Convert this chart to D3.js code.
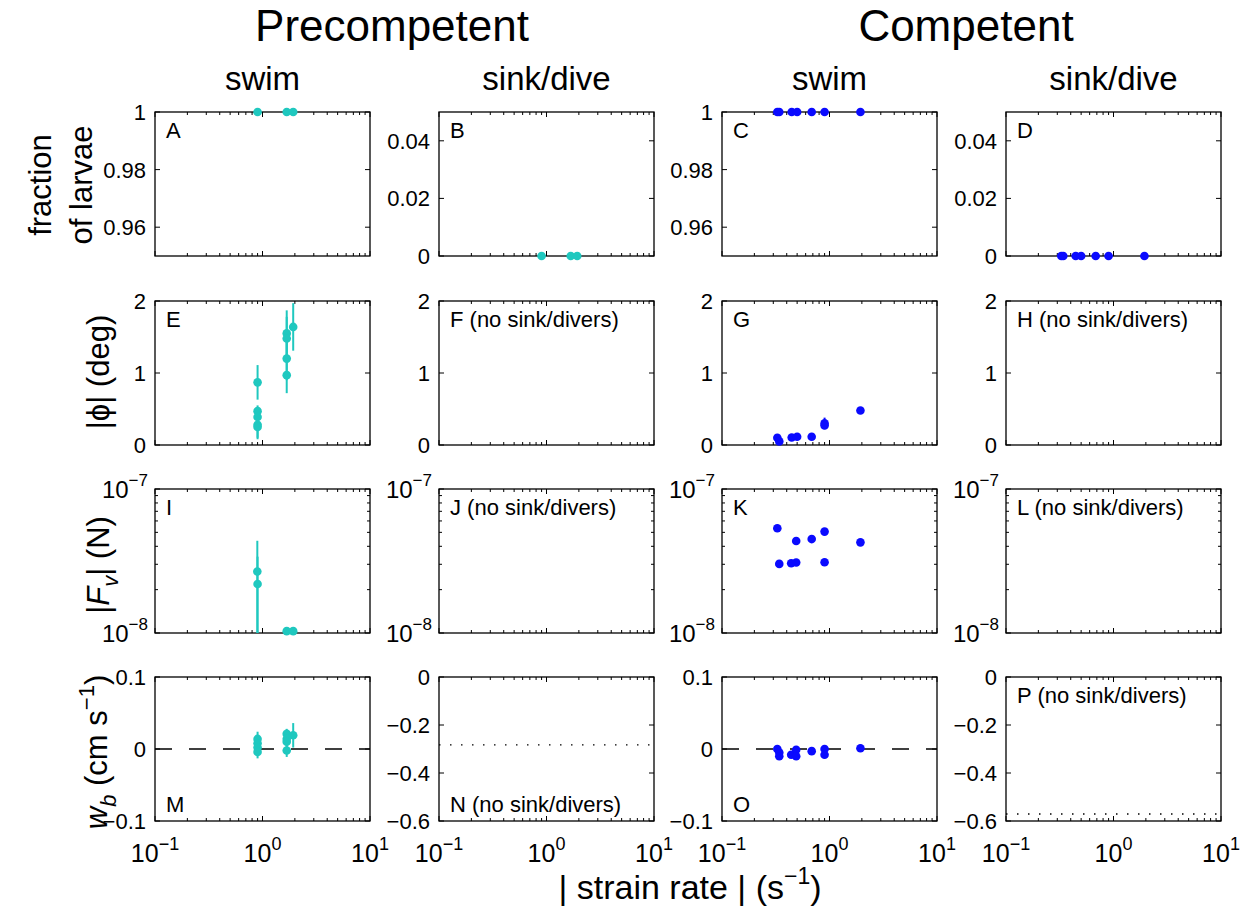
<!DOCTYPE html>
<html><head><meta charset="utf-8">
<script src="https://cdn.jsdelivr.net/npm/d3@7"></script>
<style>
body{margin:0;background:#fff}
text{font-family:"Liberation Sans",Arial,Helvetica,sans-serif;fill:#000}
</style>
</head><body>
<svg id="chart" width="1247" height="914"></svg>
<script>
// ---------------- DATA ----------------
const colTitles = ["swim", "sink/dive", "swim", "sink/dive"];
const groupTitles = ["Precompetent", "Competent"];
const xTickValues = [0.1, 1, 10];
const xTickExp = ["\u22121", "0", "1"];

// Precompetent (cyan)
const preFracX = [0.9, 1.68, 1.93];
const preFracSwimY = [1, 1, 1];
const preFracSinkY = [0, 0, 0];

const preAngleX = [0.9, 0.9, 0.9, 0.9, 0.9, 1.68, 1.68, 1.68, 1.68, 1.93];
const preAngleY = [0.87, 0.47, 0.39, 0.28, 0.25, 1.55, 1.48, 1.20, 0.97, 1.64];
const preAngleErr = [0.24, 0.08, 0.10, 0.20, 0.15, 0.32, 0.30, 0.30, 0.25, 0.33];

const preForceX = [0.895, 0.9, 1.68, 1.93];
const preForceY = [2.67e-8, 2.19e-8, 1.03e-8, 1.03e-8];
const preForceErr = [1.7e-8, 1.2e-8, 0, 0];

const preWbX = [0.9, 0.9, 0.9, 0.9, 1.68, 1.68, 1.68, 1.68, 1.93];
const preWbY = [0.014, 0.008, 0.002, -0.004, 0.021, 0.014, 0.010, -0.002, 0.019];
const preWbErr = [0.010, 0.008, 0.008, 0.009, 0.007, 0.008, 0.008, 0.009, 0.017];

// Competent (blue)
const compFracX = [0.327, 0.341, 0.445, 0.50, 0.683, 0.90, 1.94];
const compFracSwimY = [1, 1, 1, 1, 1, 1, 1];
const compFracSinkY = [0, 0, 0, 0, 0, 0, 0];

const compAngleX = [0.327, 0.341, 0.445, 0.50, 0.683, 0.90, 0.90, 1.94];
const compAngleY = [0.10, 0.05, 0.105, 0.115, 0.115, 0.30, 0.27, 0.48];
const compAngleErr = [0.02, 0.02, 0.02, 0.02, 0.02, 0.08, 0.04, 0.03];

const compForceX = [0.327, 0.341, 0.44, 0.49, 0.49, 0.683, 0.90, 0.90, 1.94];
const compForceY = [5.34e-8, 3.02e-8, 3.05e-8, 4.35e-8, 3.09e-8, 4.49e-8, 5.06e-8, 3.1e-8, 4.26e-8];

const compWbX = [0.327, 0.341, 0.341, 0.44, 0.49, 0.49, 0.683, 0.90, 0.90, 1.94];
const compWbY = [0.000, -0.005, -0.010, -0.008, -0.001, -0.010, -0.003, 0.000, -0.008, 0.001];
const compWbErr = [0.003, 0.003, 0.003, 0.003, 0.003, 0.003, 0.003, 0.003, 0.003, 0.005];

// reference lines
const zeroLineWb = 0;
const sinkRefN = -0.283;
const sinkRefP = -0.571;

const cyan = "#1fc8bf";
const blue = "#0a0aff";

// ---------------- LAYOUT ----------------
const svg = d3.select("#chart");
const panelLeft = [155, 439, 722, 1006];
const panelTop = [112, 301, 489, 677];
const W = 215, H = 144;

const x = d3.scaleLog().domain([0.1, 10]).range([0, W]);

function zip(xs, ys, es) { return xs.map((d, i) => ({x: d, y: ys[i], e: es ? es[i] : 0})); }

const fracSwim = {domain: [0.95, 1], ticks: [0.96, 0.98, 1], fmt: d => d === 1 ? "1" : d.toFixed(2)};
const fracSink = {domain: [0, 0.05], ticks: [0, 0.02, 0.04], fmt: d => d === 0 ? "0" : d.toFixed(2)};
const angle = {domain: [0, 2], ticks: [0, 1, 2], fmt: d => String(d)};
const force = {domain: [1e-8, 1e-7], log: true, ticks: [1e-8, 1e-7], exps: ["\u22128", "\u22127"]};
const wbSwim = {domain: [-0.1, 0.1], ticks: [-0.1, 0, 0.1], fmt: d => d === 0 ? "0" : (d < 0 ? "\u2212" : "") + Math.abs(d).toFixed(1)};
const wbSink = {domain: [-0.6, 0], ticks: [-0.6, -0.4, -0.2, 0], fmt: d => d === 0 ? "0" : "\u2212" + Math.abs(d).toFixed(1)};

const panels = [
  {c:0, r:0, ax: fracSwim, label:"A", pos:"top", data: zip(preFracX, preFracSwimY), color: cyan},
  {c:1, r:0, ax: fracSink, label:"B", pos:"top", data: zip(preFracX, preFracSinkY), color: cyan},
  {c:2, r:0, ax: fracSwim, label:"C", pos:"top", data: zip(compFracX, compFracSwimY), color: blue},
  {c:3, r:0, ax: fracSink, label:"D", pos:"top", data: zip(compFracX, compFracSinkY), color: blue},
  {c:0, r:1, ax: angle, label:"E", pos:"top", data: zip(preAngleX, preAngleY, preAngleErr), color: cyan},
  {c:1, r:1, ax: angle, label:"F (no sink/divers)", pos:"top", data: [], color: cyan},
  {c:2, r:1, ax: angle, label:"G", pos:"top", data: zip(compAngleX, compAngleY, compAngleErr), color: blue},
  {c:3, r:1, ax: angle, label:"H (no sink/divers)", pos:"top", data: [], color: blue},
  {c:0, r:2, ax: force, label:"I", pos:"top", data: zip(preForceX, preForceY, preForceErr), color: cyan},
  {c:1, r:2, ax: force, label:"J (no sink/divers)", pos:"top", data: [], color: cyan},
  {c:2, r:2, ax: force, label:"K", pos:"top", data: zip(compForceX, compForceY), color: blue},
  {c:3, r:2, ax: force, label:"L (no sink/divers)", pos:"top", data: [], color: blue},
  {c:0, r:3, ax: wbSwim, label:"M", pos:"bottom", data: zip(preWbX, preWbY, preWbErr), color: cyan, ref: zeroLineWb, refDash: "17,17"},
  {c:1, r:3, ax: wbSink, label:"N (no sink/divers)", pos:"bottom", data: [], color: cyan, ref: sinkRefN, refDash: "1.5,9.5"},
  {c:2, r:3, ax: wbSwim, label:"O", pos:"bottom", data: zip(compWbX, compWbY, compWbErr), color: blue, ref: zeroLineWb, refDash: "17,17"},
  {c:3, r:3, ax: wbSink, label:"P (no sink/divers)", pos:"top", data: [], color: blue, ref: sinkRefP, refDash: "1.5,9.5"}
];

const xMinor = [];
[0.1, 1].forEach(dec => { for (let k = 2; k <= 9; k++) xMinor.push(dec * k); });
const yLogMinor = [];
for (let k = 2; k <= 9; k++) yLogMinor.push(1e-8 * k);

const defs = svg.append("defs");

panels.forEach((p, i) => {
  const L = panelLeft[p.c], T = panelTop[p.r];
  const g = svg.append("g").attr("transform", `translate(${L},${T})`);
  const y = p.ax.log ? d3.scaleLog().domain(p.ax.domain).range([H, 0])
                     : d3.scaleLinear().domain(p.ax.domain).range([H, 0]);
  const clipId = "clip" + i;
  defs.append("clipPath").attr("id", clipId).append("rect").attr("x", 0).attr("y", 0).attr("width", W).attr("height", H);

  g.append("rect").attr("width", W).attr("height", H).attr("fill", "none").attr("stroke", "#000").attr("stroke-width", 1.3);

  const tk = g.append("g").attr("stroke", "#000").attr("stroke-width", 1);
  xTickValues.forEach(v => {
    tk.append("line").attr("x1", x(v)).attr("x2", x(v)).attr("y1", H).attr("y2", H - 5);
    tk.append("line").attr("x1", x(v)).attr("x2", x(v)).attr("y1", 0).attr("y2", 5);
  });
  xMinor.forEach(v => {
    tk.append("line").attr("x1", x(v)).attr("x2", x(v)).attr("y1", H).attr("y2", H - 3);
    tk.append("line").attr("x1", x(v)).attr("x2", x(v)).attr("y1", 0).attr("y2", 3);
  });
  p.ax.ticks.forEach(v => {
    tk.append("line").attr("x1", 0).attr("x2", 5).attr("y1", y(v)).attr("y2", y(v));
    tk.append("line").attr("x1", W).attr("x2", W - 5).attr("y1", y(v)).attr("y2", y(v));
  });
  if (p.ax.log) {
    yLogMinor.forEach(v => {
      tk.append("line").attr("x1", 0).attr("x2", 3).attr("y1", y(v)).attr("y2", y(v));
      tk.append("line").attr("x1", W).attr("x2", W - 3).attr("y1", y(v)).attr("y2", y(v));
    });
  }

  if (p.ax.log) {
    p.ax.ticks.forEach((v, k) => {
      const t = g.append("text").attr("x", -7).attr("y", y(v) + 9).attr("text-anchor", "end").attr("font-size", 24);
      t.append("tspan").text("10");
      t.append("tspan").attr("font-size", 17).attr("dy", -12).text(p.ax.exps[k]);
    });
  } else {
    p.ax.ticks.forEach(v => {
      g.append("text").attr("x", -9).attr("y", y(v) + 8).attr("text-anchor", "end").attr("font-size", 22).text(p.ax.fmt(v));
    });
  }

  if (p.r === 3) {
    xTickValues.forEach((v, k) => {
      const t = g.append("text").attr("x", x(v)).attr("y", H + 41).attr("text-anchor", "middle").attr("font-size", 25);
      t.append("tspan").text("10");
      t.append("tspan").attr("font-size", 18).attr("dy", -12).text(xTickExp[k]);
    });
  }

  if (p.ref !== undefined) {
    g.append("line").attr("x1", 0).attr("x2", W).attr("y1", y(p.ref)).attr("y2", y(p.ref))
      .attr("stroke", "#000").attr("stroke-width", 1.4).attr("stroke-dasharray", p.refDash);
  }

  const eb = g.append("g").attr("clip-path", `url(#${clipId})`);
  p.data.filter(d => d.e > 0).forEach(d => {
    const lo = p.ax.log ? Math.max(d.y - d.e, p.ax.domain[0] * 0.5) : d.y - d.e;
    eb.append("line").attr("x1", x(d.x)).attr("x2", x(d.x))
      .attr("y1", y(lo)).attr("y2", y(d.y + d.e))
      .attr("stroke", p.color).attr("stroke-width", 2);
  });
  g.append("g").selectAll("circle").data(p.data).join("circle")
    .attr("cx", d => x(d.x)).attr("cy", d => y(d.y)).attr("r", 4.3).attr("fill", p.color);

  g.append("text").attr("x", 11).attr("y", p.pos === "top" ? 26 : H - 9).attr("font-size", 22).text(p.label);
});

const colCenter = panelLeft.map(l => l + W / 2);
colTitles.forEach((t, i) => {
  svg.append("text").attr("x", colCenter[i]).attr("y", 90).attr("text-anchor", "middle").attr("font-size", 33).text(t);
});
groupTitles.forEach((t, i) => {
  svg.append("text").attr("x", i === 0 ? 392 : 966).attr("y", 41).attr("text-anchor", "middle").attr("font-size", 44).text(t);
});

function vlabel(xb, yc, build) {
  const t = svg.append("text").attr("transform", `translate(${xb},${yc}) rotate(-90)`).attr("text-anchor", "middle").attr("font-size", 31);
  build(t);
  return t;
}
vlabel(51, 185, t => t.text("fraction"));
vlabel(92, 185, t => t.text("of larvae"));
vlabel(109, 372, t => t.text("|\u03D5| (deg)"));
vlabel(109, 565, t => {
  t.append("tspan").text("|");
  t.append("tspan").attr("font-style", "italic").text("F");
  t.append("tspan").attr("font-style", "italic").attr("font-size", 22).attr("dy", 9).text("v");
  t.append("tspan").attr("dy", -9).text("| (N)");
});
vlabel(107, 752, t => {
  t.append("tspan").attr("font-style", "italic").text("w");
  t.append("tspan").attr("font-style", "italic").attr("font-size", 22).attr("dy", 9).text("b");
  t.append("tspan").attr("dy", -9).text(" (cm s");
  t.append("tspan").attr("font-size", 22).attr("dy", -13).text("\u22121");
  t.append("tspan").attr("dy", 13).text(")");
});

const xl = svg.append("text").attr("x", 690).attr("y", 899).attr("text-anchor", "middle").attr("font-size", 34);
xl.append("tspan").text("| strain rate | (s");
xl.append("tspan").attr("font-size", 23).attr("dy", -15).text("\u22121");
xl.append("tspan").attr("dy", 15).text(")");
</script>
</body></html>
